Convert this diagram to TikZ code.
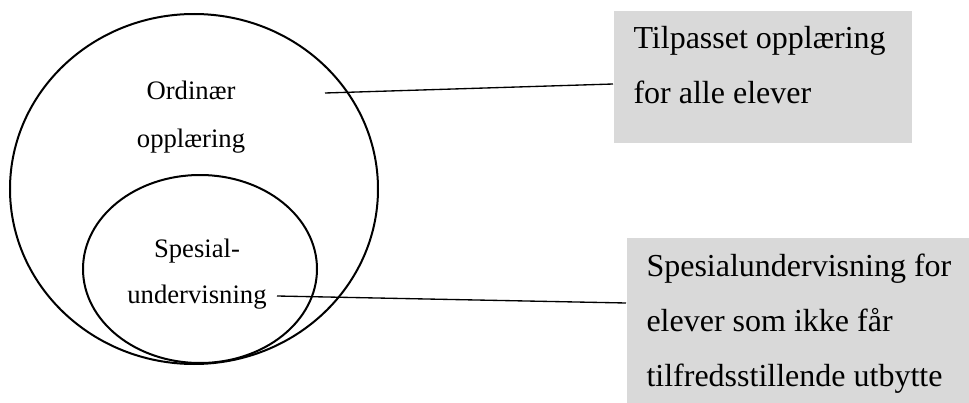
\documentclass[tikz,border=0pt]{standalone}
\usepackage{fontspec}
\setmainfont{Liberation Serif}
\usetikzlibrary{shapes.geometric,positioning}
\definecolor{boxgray}{RGB}{217,217,217}

\begin{document}
\begin{tikzpicture}[x=0.375pt,y=-0.375pt,
		ring/.style={ellipse,draw,line width=0.75pt,inner sep=0pt},
		infobox/.style={rectangle,fill=boxgray,inner sep=0pt,anchor=north west},
		ringtext/.style={align=center,anchor=base,inner sep=0pt,font=\fontsize{10}{18}\selectfont},
		boxtext/.style={align=left,anchor=base west,inner sep=0pt,font=\fontsize{12}{20.6}\selectfont}]
		\useasboundingbox (0,0) rectangle (969,403);
		% the two circles
		\node[ring,minimum width=138pt,minimum height=131.25pt](ord) at (194,189) {};
		\node[ring,minimum width=87.75pt,minimum height=70.5pt](spes) at (200,269) {};
		\node[ringtext](ordtxt) at (191,147) {Ordinær\\opplæring};
		\node[ringtext,font=\fontsize{10}{17.25}\selectfont](spestxt) at (197,303) {Spesial-\\undervisning};
		% grey boxes
		\node[infobox,minimum width=112.1pt,minimum height=49.5pt](tilbox) at (613,10) {};
		\node[infobox,minimum width=128.6pt,minimum height=75pt](spesbox) at (626,237) {};
		\node[boxtext](tiltxt) at (633,103) {Tilpasset opplæring\\for alle elever};
		\node[boxtext](spesboxtxt) at (646,386) {Spesialundervisning for\\elever som ikke får\\tilfredsstillende utbytte};
		\coordinate (ordpt) at (325,93);
		\coordinate (spespt) at (277,296);
		\path[draw,line width=0.5pt]
		(ordpt) edge (tilbox.west |- 0,84)
		(spespt) edge (spesbox.west |- 0,303);
\end{tikzpicture}
\end{document}
